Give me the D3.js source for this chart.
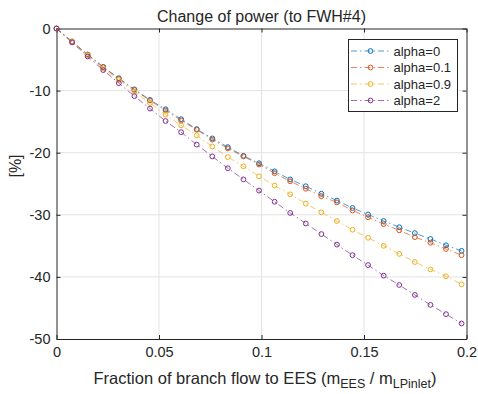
<!DOCTYPE html>
<html>
<head>
<meta charset="utf-8">
<script src="https://cdn.jsdelivr.net/npm/d3@7/dist/d3.min.js"></script>
<style>
  body { margin: 0; background: #fff; }
  svg text { font-family: "Liberation Sans", Arial, sans-serif; fill: #262626; }
</style>
</head>
<body>
<div id="chart"></div>
<script>
// fraction of branch flow (x values)
const fractions = [0, 0.0076, 0.0152, 0.0228, 0.0304, 0.038, 0.0456, 0.0532, 0.0608, 0.0684,
    0.076, 0.0836, 0.0912, 0.0988, 0.1064, 0.114, 0.1216, 0.1292, 0.1368, 0.1444,
    0.152, 0.1596, 0.1672, 0.1748, 0.1824, 0.19, 0.1976];

const alpha0 = [0, -2.1, -4.2, -6.2, -8.0, -9.8, -11.5, -13.0, -14.6, -16.2, -17.7, -19.1, -20.5, -21.7,
    -23.0, -24.3, -25.4, -26.6, -27.7, -28.9, -29.95, -31.0, -32.0, -32.95, -33.9, -34.9, -35.8];
const alpha01 = [0, -2.1, -4.2, -6.2, -8.1, -9.9, -11.6, -13.2, -14.8, -16.3, -17.9, -19.3, -20.6, -21.9,
    -23.3, -24.6, -25.8, -27.0, -28.0, -29.3, -30.4, -31.5, -32.5, -33.6, -34.5, -35.5, -36.5];
const alpha09 = [0, -2.15, -4.3, -6.45, -8.3, -10.2, -12.0, -13.9, -15.6, -17.2, -19.0, -20.7, -22.2, -23.8,
    -25.3, -26.7, -28.2, -29.6, -31.0, -32.4, -33.7, -35.0, -36.3, -37.6, -38.8, -39.9, -41.2];
const alpha2 = [0, -2.25, -4.5, -6.7, -8.8, -10.9, -12.9, -14.9, -16.7, -18.7, -20.6, -22.5, -24.3, -26.1,
    -27.9, -29.7, -31.4, -33.1, -34.8, -36.5, -38.1, -39.8, -41.3, -42.9, -44.5, -46.0, -47.5];

const seriesNames = ['alpha=0', 'alpha=0.1', 'alpha=0.9', 'alpha=2'];
const seriesColors = ['#0072BD', '#D95319', '#EDB120', '#7E2F8E'];
const xTicks = [0, 0.05, 0.1, 0.15, 0.2];
const yTicks = [0, -10, -20, -30, -40, -50];

const series = [alpha0, alpha01, alpha09, alpha2].map((vals, k) => ({
    name: seriesNames[k],
    color: seriesColors[k],
    points: vals.map((v, i) => ({ x: fractions[i], y: v }))
}));

const W = 478, H = 394;
const m = { left: 56.5, right: 466.5, top: 28.5, bottom: 339 };
const dash = '6,3,1.5,3';

const svg = d3.select('#chart').append('svg')
    .attr('width', W).attr('height', H);

const x = d3.scaleLinear().domain([0, 0.2]).range([m.left, m.right]);
const y = d3.scaleLinear().domain([-50, 0]).range([m.bottom, m.top]);

// grid
svg.append('g').selectAll('line')
    .data(xTicks.slice(1, -1)).join('line')
    .attr('x1', d => x(d)).attr('x2', d => x(d))
    .attr('y1', m.top).attr('y2', m.bottom)
    .attr('stroke', '#e3e3e3').attr('stroke-width', 1);
svg.append('g').selectAll('line')
    .data(yTicks.slice(1, -1)).join('line')
    .attr('y1', d => y(d)).attr('y2', d => y(d))
    .attr('x1', m.left).attr('x2', m.right)
    .attr('stroke', '#e3e3e3').attr('stroke-width', 1);

// axes
const fmt = d => String(d);
svg.append('g')
    .attr('transform', `translate(0,${m.bottom})`)
    .call(d3.axisBottom(x).tickValues(xTicks).tickFormat(fmt).tickSizeInner(-4).tickSizeOuter(0).tickPadding(8));
svg.append('g')
    .attr('transform', `translate(${m.left},0)`)
    .call(d3.axisLeft(y).tickValues(yTicks).tickFormat(fmt).tickSizeInner(-4).tickSizeOuter(0).tickPadding(6));
svg.append('g')
    .attr('transform', `translate(0,${m.top})`)
    .call(d3.axisTop(x).tickValues(xTicks).tickFormat('').tickSizeInner(-4).tickSizeOuter(0));
svg.append('g')
    .attr('transform', `translate(${m.right},0)`)
    .call(d3.axisRight(y).tickValues(yTicks).tickFormat('').tickSizeInner(-4).tickSizeOuter(0));
svg.selectAll('.domain, .tick line').attr('stroke', '#262626');
svg.selectAll('.tick text').attr('font-size', '14.5px').attr('fill', '#262626')
    .style('font-family', '"Liberation Sans", Arial, sans-serif');

// lines and markers
const line = d3.line().x(d => x(d.x)).y(d => y(d.y));
series.forEach(s => {
    const g = svg.append('g');
    g.append('path')
        .datum(s.points)
        .attr('d', line)
        .attr('fill', 'none')
        .attr('stroke', s.color)
        .attr('stroke-width', 0.7)
        .attr('stroke-dasharray', dash);
    g.selectAll('circle')
        .data(s.points).join('circle')
        .attr('cx', d => x(d.x)).attr('cy', d => y(d.y))
        .attr('r', 2.4)
        .attr('fill', 'none')
        .attr('stroke', s.color)
        .attr('stroke-width', 1);
});

// title and labels
svg.append('text')
    .attr('x', (m.left + m.right) / 2).attr('y', 22)
    .attr('text-anchor', 'middle')
    .attr('font-size', '16px')
    .text('Change of power (to FWH#4)');

const xl = svg.append('text')
    .attr('x', 265).attr('y', 383.5)
    .attr('text-anchor', 'middle')
    .attr('font-size', '16.5px');
xl.append('tspan').text('Fraction of branch flow to EES (m');
xl.append('tspan').attr('font-size', '12.5px').attr('dy', 4).text('EES');
xl.append('tspan').attr('dy', -4).text(' / m');
xl.append('tspan').attr('font-size', '12.5px').attr('dy', 4).text('LPinlet');
xl.append('tspan').attr('dy', -4).text(')');

svg.append('text')
    .attr('transform', 'translate(21,166) rotate(-90)')
    .attr('text-anchor', 'middle')
    .attr('font-size', '16px')
    .text('[%]');

// legend
const lg = svg.append('g').attr('transform', 'translate(348.5,39.5)');
lg.append('rect')
    .attr('width', 109).attr('height', 72)
    .attr('fill', '#fff')
    .attr('stroke', '#262626').attr('stroke-width', 1);
series.forEach((s, i) => {
    const row = lg.append('g').attr('transform', `translate(0,${11.5 + i * 16.5})`);
    row.append('line')
        .attr('x1', 2.5).attr('x2', 41.5)
        .attr('stroke', s.color).attr('stroke-width', 0.7)
        .attr('stroke-dasharray', dash);
    row.append('circle')
        .attr('cx', 22).attr('r', 2.4)
        .attr('fill', 'none').attr('stroke', s.color).attr('stroke-width', 1);
    row.append('text')
        .attr('x', 45).attr('y', 4.6)
        .attr('font-size', '13px')
        .text(s.name);
});
</script>
</body>
</html>
